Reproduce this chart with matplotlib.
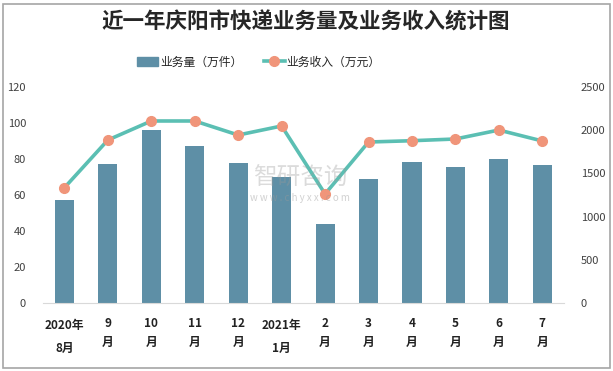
import matplotlib
matplotlib.use("Agg")
import matplotlib.pyplot as plt
from matplotlib.lines import Line2D
from matplotlib.patches import Patch, Rectangle

plt.rcParams['font.family'] = ['Noto Sans CJK SC', 'DejaVu Sans']

categories = ["2020年\n8月", "9\n月", "10\n月", "11\n月", "12\n月", "2021年\n1月",
              "2\n月", "3\n月", "4\n月", "5\n月", "6\n月", "7\n月"]
volume = [57.0, 77.1, 96.0, 87.1, 77.6, 70.0, 43.7, 68.7, 78.2, 75.4, 79.9, 76.5]
revenue = [1335, 1888, 2109, 2109, 1946, 2051, 1262, 1865, 1880, 1900, 2004, 1877]
left_ticks = [0, 20, 40, 60, 80, 100, 120]
right_ticks = [0, 500, 1000, 1500, 2000, 2500]

bar_color = "#5E8FA6"
line_color = "#5BBFB3"
marker_color = "#F0957A"

fig = plt.figure(figsize=(6.13, 3.71), dpi=100)
fig.patches.append(Rectangle((3/613, 3/371), 607/613, 364/371, transform=fig.transFigure,
                             fill=False, edgecolor="#A6A6A6", linewidth=1.2))

W, H = 613, 371
ax = fig.add_axes([42.7/W, 1 - 302.7/H, (564 - 42.7)/W, (302.7 - 87.3)/H])
x = list(range(len(categories)))
ax.bar(x, volume, width=0.44, color=bar_color, zorder=2)
ax.set_xlim(-0.5, len(categories) - 0.5)
ax.set_ylim(0, 120)
ax.set_yticks(left_ticks)
ax.set_yticklabels([str(t) for t in left_ticks], fontsize=8, color="#404040")
ax.set_xticks(x)
ax.set_xticklabels(categories, fontsize=8.5, fontweight="bold", color="#222222")
for lab in ax.get_xticklabels():
    if "年" in lab.get_text():
        lab.set_linespacing(1.95)
        lab.set_y(-0.012)
    else:
        lab.set_linespacing(1.65)
ax.tick_params(axis="both", length=0)
ax.tick_params(axis="y", pad=12)
ax.tick_params(axis="x", pad=10)
for s in ["top", "right", "left"]:
    ax.spines[s].set_visible(False)
ax.spines["bottom"].set_color("#D9D9D9")

ax2 = ax.twinx()
ax2.plot(x, revenue, color=line_color, linewidth=2.6, marker="o", markersize=7,
         markerfacecolor=marker_color, markeredgecolor=marker_color, zorder=3)
ax2.set_ylim(0, 2500)
ax2.set_yticks(right_ticks)
ax2.set_yticklabels([str(t) for t in right_ticks], fontsize=8, color="#404040")
ax2.tick_params(axis="y", length=0, pad=12)
for s in ["top", "right", "left", "bottom"]:
    ax2.spines[s].set_visible(False)

fig.text(306/W, 1 - 22/H, "近一年庆阳市快递业务量及业务收入统计图", ha="center", va="center",
         fontsize=15.5, fontweight="bold", color="#262626")

handles = [Patch(facecolor=bar_color, edgecolor=bar_color),
           Line2D([0], [0], color=line_color, linewidth=2.6, marker="o", markersize=7,
                  markerfacecolor=marker_color, markeredgecolor=marker_color)]
leg = fig.legend(handles, ["业务量（万件）", "业务收入（万元）"], loc="center",
                 bbox_to_anchor=(259/W, 1 - 62/H), ncol=2, frameon=False, fontsize=8.5,
                 handlelength=1.8, columnspacing=1.8, handletextpad=0.15)
for t in leg.get_texts():
    t.set_color("#262626")

# watermark
fig.text(300/W, 1 - 178/H, "智研咨询", ha="center", va="center", fontsize=17,
         color="#9A9A9A", alpha=0.35)
fig.text(300/W, 1 - 198/H, "w w w . c h y x x . c o m", ha="center", va="center",
         fontsize=7, color="#9A9A9A", alpha=0.45)

fig.savefig("out.png", dpi=100)
